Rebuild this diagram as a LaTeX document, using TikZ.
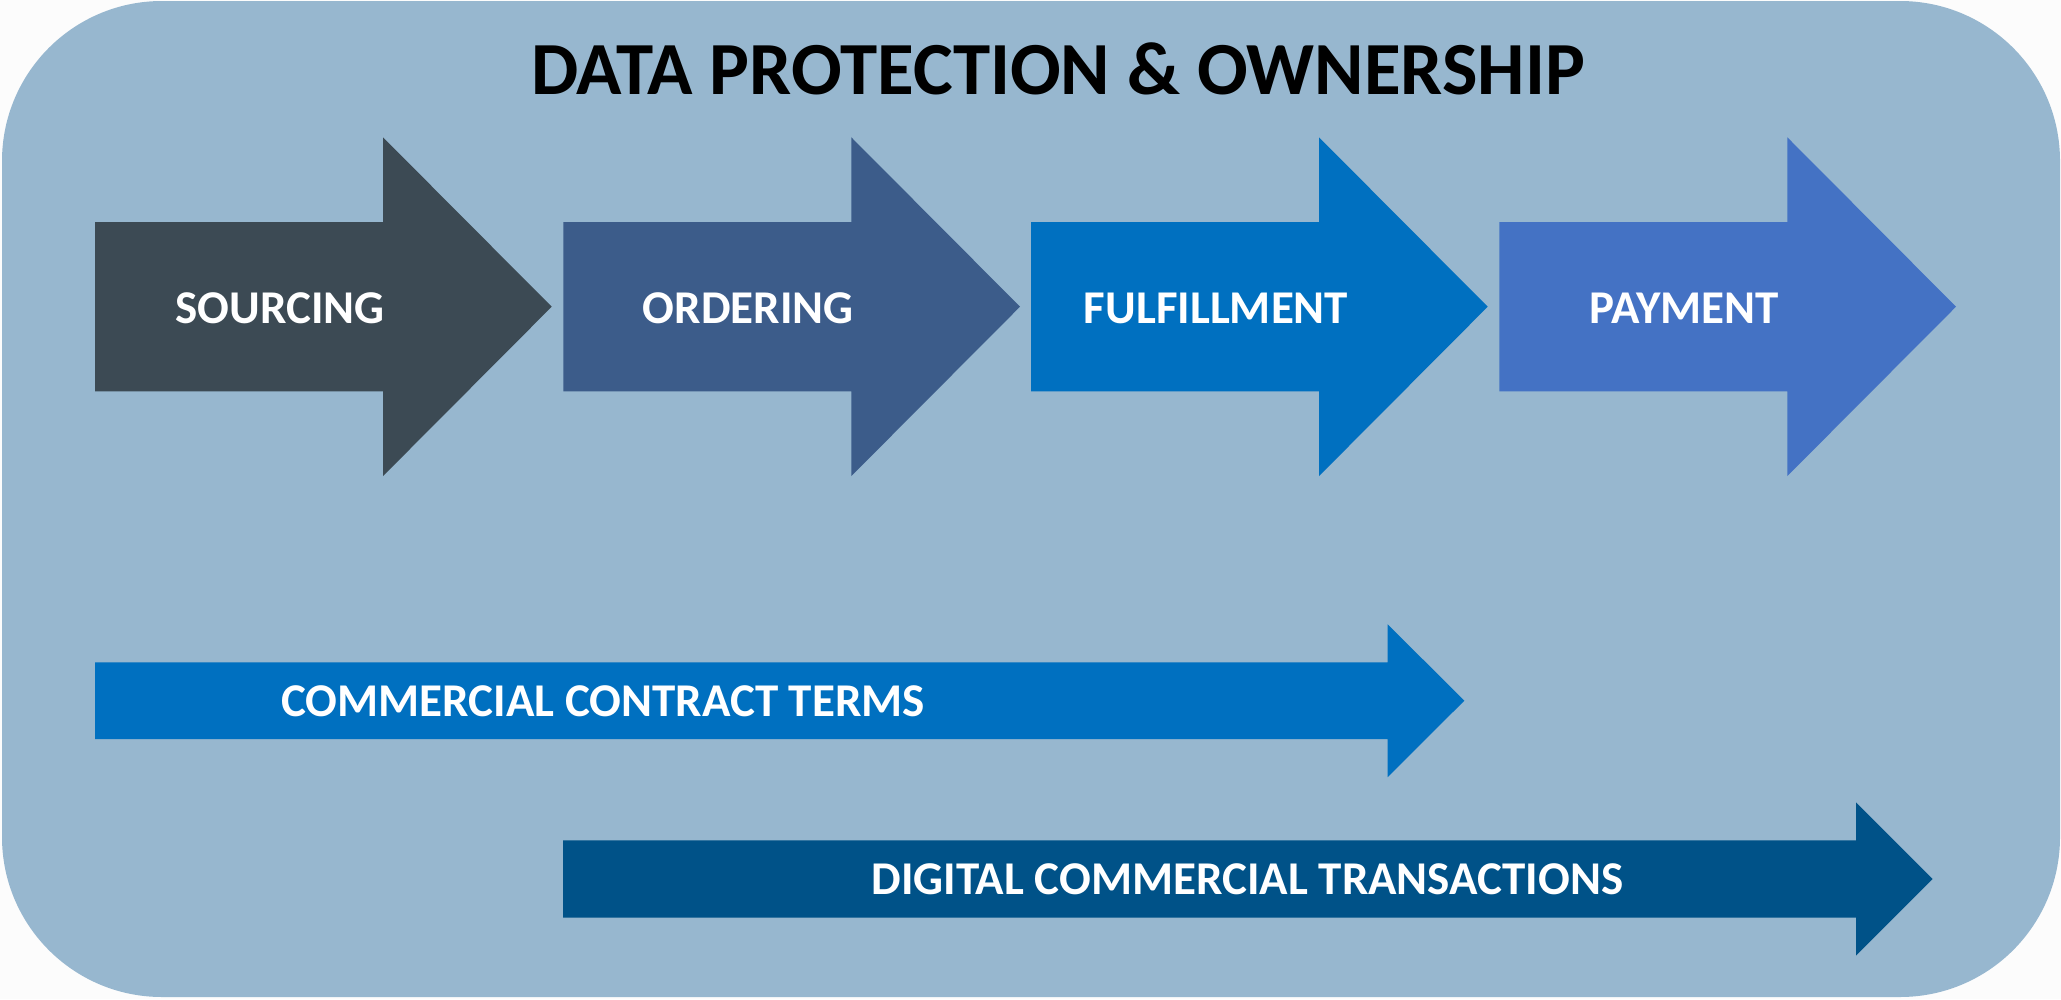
\documentclass[tikz,border=0pt]{standalone}
\usepackage{fontspec}
\setmainfont{Carlito}
\definecolor{pagebg}{RGB}{252,252,252}
\definecolor{panelbg}{RGB}{151,183,207}
\definecolor{csourcing}{RGB}{60,74,84}
\definecolor{cordering}{RGB}{60,92,138}
\definecolor{cfulfil}{RGB}{0,112,192}
\definecolor{cpayment}{RGB}{68,114,196}
\definecolor{ccontract}{RGB}{0,112,192}
\definecolor{cdigital}{RGB}{0,82,136}
\tikzset{
  lbl/.style={text=white, font=\fontsize{47}{50}\selectfont\bfseries, inner sep=0pt},
  ttl/.style={text=black, font=\fontsize{75}{80}\selectfont\bfseries, inner sep=0pt},
}
\newcommand\toparrow[2]{%
  \fill[#2] (#1,222) -- ++(288,0) -- ++(0,-84.7) -- ++(168.7,169.4) -- ++(-168.7,169.4) -- ++(0,-84.7) -- ++(-288,0) -- cycle;}
\begin{document}
\begin{tikzpicture}[x=1pt,y=-1pt]
\useasboundingbox (0,0) rectangle (2061,999);
\fill[pagebg] (0,0) rectangle (2061,999);
\fill[panelbg, rounded corners=160pt] (2,1) rectangle (2060,997);
\node[ttl, anchor=base west] (title) at (531,94) {DATA PROTECTION \& OWNERSHIP};
\toparrow{95}{csourcing}
\toparrow{563.3}{cordering}
\toparrow{1031}{cfulfil}
\toparrow{1499.3}{cpayment}
\node[lbl, anchor=base] (sourcing) at (280,323.3) {SOURCING};
\node[lbl, anchor=base] (ordering) at (748.3,323.3) {ORDERING};
\node[lbl, anchor=base] (fulfillment) at (1216,323.3) {FULFILLMENT};
\node[lbl, anchor=base] (payment) at (1684.3,323.3) {PAYMENT};
\fill[ccontract] (95,662.3) -- (1387.7,662.3) -- (1387.7,624.3) -- (1464.3,700.7) -- (1387.7,777.1) -- (1387.7,739.1) -- (95,739.1) -- cycle;
\fill[cdigital] (563,840.3) -- (1856,840.3) -- (1856,802.3) -- (1932.7,879) -- (1856,955.7) -- (1856,917.7) -- (563,917.7) -- cycle;
\node[lbl, anchor=base west] (contract) at (281,716) {COMMERCIAL CONTRACT TERMS};
\node[lbl, anchor=base west] (digital) at (871.5,894.3) {DIGITAL COMMERCIAL TRANSACTIONS};
\end{tikzpicture}
\end{document}
